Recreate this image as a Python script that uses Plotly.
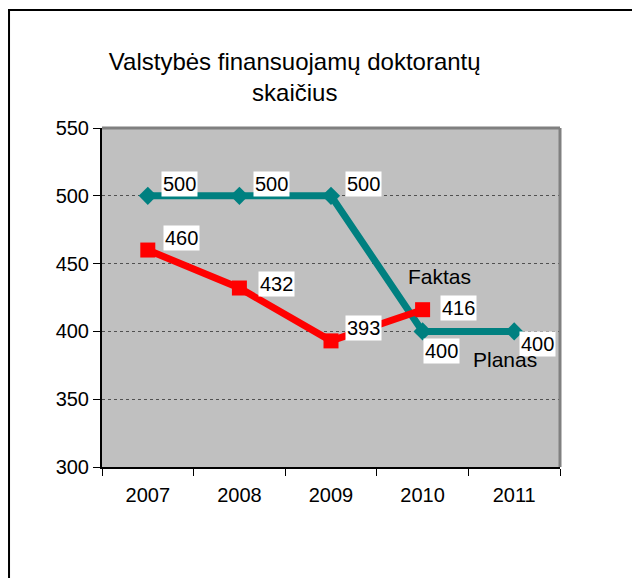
import plotly.graph_objects as go

years = [2007, 2008, 2009, 2010, 2011]
planas = [500, 500, 500, 400, 400]
faktas_years = [2007, 2008, 2009, 2010]
faktas = [460, 432, 393, 416]

TITLE = "Valstybės finansuojamų doktorantų<br>skaičius"
FONT = "Liberation Sans, Arial, sans-serif"

# label offsets (px) relative to each point
planas_shift = [(32, 12), (32, 12), (32, 12), (19, -20), (23, -13)]
faktas_shift = [(34, 12), (37, 4), (32, 13), (36, 2)]

fig = go.Figure()
fig.add_trace(go.Scatter(
    x=years, y=planas, mode="lines+markers", name="Planas",
    line=dict(color="#008080", width=7),
    marker=dict(symbol="diamond", size=14, color="#008080"),
))
fig.add_trace(go.Scatter(
    x=faktas_years, y=faktas, mode="lines+markers", name="Faktas",
    line=dict(color="#FF0000", width=7),
    marker=dict(symbol="square", size=15, color="#FF0000"),
))

annotations = []
for (xv, yv), (dx, dy) in zip(zip(years, planas), planas_shift):
    annotations.append(dict(x=xv, y=yv, text=str(yv), showarrow=False,
                            xshift=dx, yshift=dy, bgcolor="white", borderpad=1,
                            font=dict(size=20, color="black", family=FONT)))
for (xv, yv), (dx, dy) in zip(zip(faktas_years, faktas), faktas_shift):
    annotations.append(dict(x=xv, y=yv, text=str(yv), showarrow=False,
                            xshift=dx, yshift=dy, bgcolor="white", borderpad=1,
                            font=dict(size=20, color="black", family=FONT)))
annotations.append(dict(x=2010, y=416, text="Faktas", showarrow=False,
                        xshift=17, yshift=33, font=dict(size=21, color="black", family=FONT)))
annotations.append(dict(x=2011, y=400, text="Planas", showarrow=False,
                        xshift=-9, yshift=-28, font=dict(size=21, color="black", family=FONT)))

fig.update_layout(
    width=640, height=578,
    margin=dict(l=94, r=88, t=120, b=119),
    paper_bgcolor="white",
    plot_bgcolor="#C0C0C0",
    showlegend=False,
    font=dict(family=FONT, size=20, color="black"),
    title=dict(text=TITLE, x=0.448, xanchor="center", y=0.893, yanchor="middle",
               font=dict(size=24, color="black", family=FONT)),
    annotations=annotations,
    shapes=[
        # outer frame (left and top edges visible)
        dict(type="rect", xref="paper", yref="paper",
             x0=-0.203, x1=1.5, y0=-0.5, y1=1.348,
             line=dict(color="black", width=2), layer="below"),
        # top and right plot border
        dict(type="line", xref="paper", yref="paper", x0=0, x1=1, y0=1, y1=1,
             line=dict(color="#808080", width=3)),
        dict(type="line", xref="paper", yref="paper", x0=1, x1=1, y0=0, y1=1,
             line=dict(color="#808080", width=3)),
    ],
)
fig.update_xaxes(
    range=[2006.5, 2011.5], tickmode="array", tickvals=years,
    ticktext=[str(y) for y in years], ticks="", showgrid=False,
    minor=dict(tick0=2006.5, dtick=1, ticks="outside", ticklen=7,
               tickcolor="black", showgrid=False),
    showline=True, linecolor="black", linewidth=2,
    tickfont=dict(size=20), ticklabelstandoff=9, fixedrange=True,
)
fig.update_yaxes(
    range=[300, 550], dtick=50, showgrid=True, gridcolor="#505050",
    griddash="dot", gridwidth=1, ticks="outside", ticklen=7, tickcolor="black",
    showline=True, linecolor="black", linewidth=2, tickfont=dict(size=20),
    zeroline=False, fixedrange=True,
)

fig.write_html("out.html")
